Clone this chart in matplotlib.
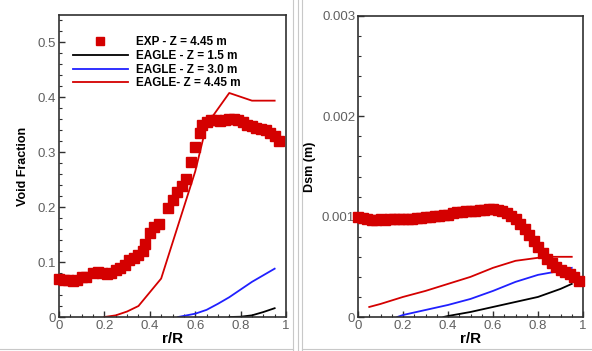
import matplotlib
matplotlib.use("Agg")
import matplotlib.pyplot as plt
from matplotlib.ticker import MultipleLocator, FuncFormatter
from matplotlib.lines import Line2D

plt.rcParams['font.family'] = ['Liberation Sans', 'DejaVu Sans']

# ---- Left panel: Void fraction ----
exp_vf_r = [0.0, 0.02, 0.04, 0.06, 0.08, 0.10, 0.12, 0.15, 0.17, 0.19, 0.21, 0.23, 0.25,
            0.27, 0.29, 0.31, 0.33, 0.35, 0.37, 0.38, 0.40, 0.42, 0.44, 0.48, 0.50, 0.52,
            0.54, 0.56, 0.58, 0.60, 0.62, 0.63, 0.65, 0.67, 0.69, 0.71, 0.73, 0.75, 0.77,
            0.79, 0.81, 0.83, 0.85, 0.87, 0.89, 0.91, 0.93, 0.95, 0.97]
exp_vf = [0.070, 0.068, 0.067, 0.066, 0.067, 0.072, 0.073, 0.080, 0.082, 0.080, 0.079,
          0.080, 0.085, 0.090, 0.095, 0.103, 0.108, 0.113, 0.120, 0.133, 0.153, 0.163,
          0.170, 0.198, 0.213, 0.228, 0.238, 0.252, 0.283, 0.310, 0.335, 0.350, 0.355,
          0.358, 0.358, 0.357, 0.359, 0.361, 0.360, 0.358, 0.355, 0.350, 0.347, 0.344,
          0.342, 0.340, 0.336, 0.330, 0.320]

eagle_vf_15_r = [0.75, 0.80, 0.85, 0.90, 0.95]
eagle_vf_15 = [0.0, 0.0005, 0.003, 0.009, 0.016]
eagle_vf_30_r = [0.525, 0.55, 0.60, 0.65, 0.70, 0.75, 0.80, 0.85, 0.90, 0.95]
eagle_vf_30 = [0.0, 0.002, 0.006, 0.013, 0.024, 0.036, 0.050, 0.064, 0.076, 0.088]
eagle_vf_445_r = [0.20, 0.25, 0.30, 0.35, 0.45, 0.50, 0.55, 0.60, 0.65, 0.75, 0.85, 0.95]
eagle_vf_445 = [0.0, 0.003, 0.010, 0.020, 0.070, 0.135, 0.200, 0.265, 0.350, 0.408, 0.394, 0.394]

# ---- Right panel: Dsm ----
exp_d_r = [0.00, 0.02, 0.04, 0.06, 0.08, 0.10, 0.12, 0.14, 0.16, 0.18, 0.20, 0.22, 0.24,
           0.26, 0.28, 0.30, 0.32, 0.34, 0.36, 0.38, 0.40, 0.42, 0.44, 0.46, 0.48, 0.50,
           0.52, 0.54, 0.56, 0.58, 0.60, 0.62, 0.64, 0.66, 0.68, 0.70, 0.72, 0.74, 0.76,
           0.78, 0.80, 0.82, 0.84, 0.86, 0.88, 0.90, 0.92, 0.94, 0.96, 0.98]
exp_d = [0.00100, 0.00099, 0.00098, 0.00097, 0.00097, 0.00098, 0.00097, 0.00098, 0.00098,
         0.00098, 0.00098, 0.00098, 0.00098, 0.00099, 0.00099, 0.00100, 0.00100, 0.00101,
         0.00101, 0.00102, 0.00102, 0.00104, 0.00105, 0.00105, 0.00106, 0.00106, 0.00106,
         0.00107, 0.00107, 0.00108, 0.00108, 0.00107, 0.00106, 0.00104, 0.00101, 0.00098,
         0.00093, 0.00088, 0.00082, 0.00076, 0.00070, 0.00064, 0.00058, 0.00054, 0.00050,
         0.00047, 0.00045, 0.00043, 0.00040, 0.00036]

eagle_d_15_r = [0.38, 0.40, 0.50, 0.60, 0.70, 0.80, 0.90, 0.95]
eagle_d_15 = [0.0, 0.00001, 0.00005, 0.00010, 0.00015, 0.00020, 0.00028, 0.00033]
eagle_d_30_r = [0.175, 0.20, 0.30, 0.40, 0.50, 0.60, 0.70, 0.80, 0.90, 0.95]
eagle_d_30 = [0.0, 0.00002, 0.00007, 0.00012, 0.00018, 0.00026, 0.00035, 0.00042, 0.00046, 0.00049]
eagle_d_445_r = [0.05, 0.10, 0.20, 0.30, 0.40, 0.50, 0.60, 0.70, 0.80, 0.85, 0.95]
eagle_d_445 = [0.00010, 0.00013, 0.00020, 0.00026, 0.00033, 0.00040, 0.00049, 0.00056,
               0.00059, 0.00060, 0.00060]

RED = '#d40000'
BLUE = '#2020ff'
BLACK = '#000000'
TICKC = '#606060'
SPINEC = '#303030'

fig = plt.figure(figsize=(5.92, 3.51), dpi=100)
fig.patch.set_facecolor('white')

axL = fig.add_axes([59/592, 34/351, 227/592, 302/351])
axR = fig.add_axes([358/592, 34/351, 225/592, 301/351])


def fmt(v, pos):
    if abs(v) < 1e-12:
        return '0'
    if abs(v - 1) < 1e-9:
        return '1'
    s = ('%.4f' % v).rstrip('0').rstrip('.')
    return s


for ax in (axL, axR):
    for sp in ax.spines.values():
        sp.set_color(SPINEC)
        sp.set_linewidth(1.2)
    ax.tick_params(which='both', direction='in', top=False, right=False,
                   colors=SPINEC, labelcolor=TICKC, labelsize=9.5, pad=2)
    ax.tick_params(which='major', length=4, width=1.0)
    ax.tick_params(which='minor', length=2, width=0.8)
    ax.set_xlim(0, 1)
    ax.xaxis.set_major_locator(MultipleLocator(0.2))
    ax.xaxis.set_minor_locator(MultipleLocator(0.05))
    ax.xaxis.set_major_formatter(FuncFormatter(fmt))
    ax.yaxis.set_major_formatter(FuncFormatter(fmt))
    ax.set_xlabel('r/R', fontsize=11, fontweight='bold', labelpad=0)

# Left
axL.plot(exp_vf_r, exp_vf, 's', color=RED, markersize=6.5, linestyle='none',
         label='EXP - Z = 4.45 m', clip_on=False, zorder=3)
axL.plot(eagle_vf_15_r, eagle_vf_15, '-', color=BLACK, lw=1.3, label='EAGLE - Z = 1.5 m')
axL.plot(eagle_vf_30_r, eagle_vf_30, '-', color=BLUE, lw=1.3, label='EAGLE - Z = 3.0 m')
axL.plot(eagle_vf_445_r, eagle_vf_445, '-', color=RED, lw=1.3, label='EAGLE- Z = 4.45 m')
axL.set_ylim(0, 0.55)
axL.yaxis.set_major_locator(MultipleLocator(0.1))
axL.yaxis.set_minor_locator(MultipleLocator(0.02))
axL.set_ylabel('Void Fraction', fontsize=9, fontweight='bold', labelpad=6)
leg = axL.legend(loc='upper left', bbox_to_anchor=(0.06, 0.93), frameon=False,
                 prop={'size': 8.5, 'weight': 'bold'}, handlelength=4.7,
                 handletextpad=0.7, labelspacing=0.15, borderaxespad=0,
                 borderpad=0, markerscale=0.85)

# Right
axR.plot(exp_d_r, exp_d, 's', color=RED, markersize=6.5, linestyle='none',
         clip_on=False, zorder=3)
axR.plot(eagle_d_15_r, eagle_d_15, '-', color=BLACK, lw=1.3)
axR.plot(eagle_d_30_r, eagle_d_30, '-', color=BLUE, lw=1.3)
axR.plot(eagle_d_445_r, eagle_d_445, '-', color=RED, lw=1.3)
axR.set_ylim(0, 0.003)
axR.yaxis.set_major_locator(MultipleLocator(0.001))
axR.yaxis.set_minor_locator(MultipleLocator(0.0002))
axR.set_ylabel('Dsm (m)', fontsize=9, fontweight='bold', labelpad=4)

# panel separators
for xp in (293, 298, 302):
    fig.add_artist(Line2D([xp/592, xp/592], [0, 1], color='#c8c8c8', lw=0.8))
fig.add_artist(Line2D([0, 293/592], [2/351, 2/351], color='#c8c8c8', lw=0.8))
fig.add_artist(Line2D([302/592, 1], [2/351, 2/351], color='#c8c8c8', lw=0.8))

fig.savefig('out.png', dpi=100, facecolor='white')
